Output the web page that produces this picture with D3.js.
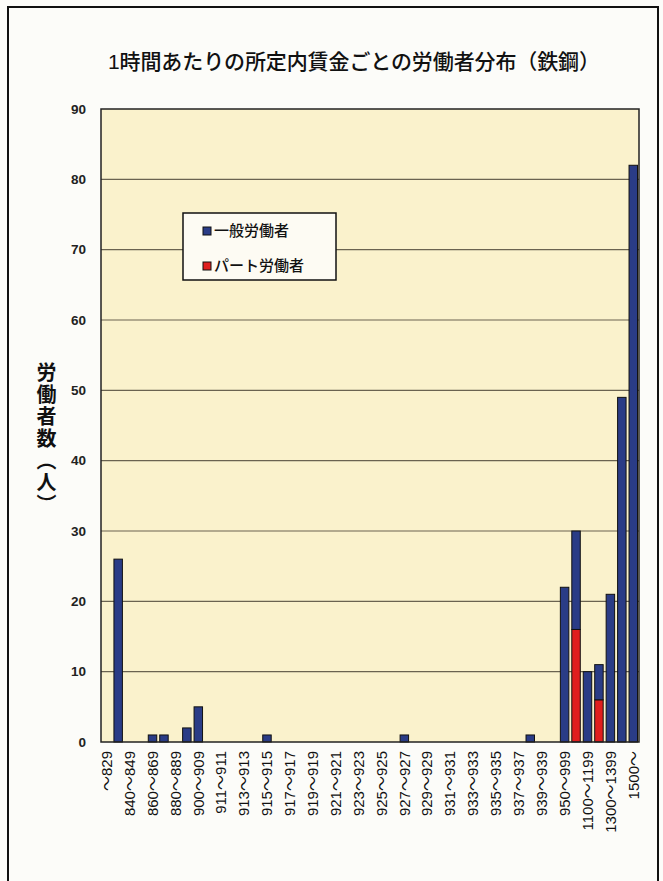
<!DOCTYPE html>
<html>
<head>
<meta charset="utf-8">
<script src="https://cdn.jsdelivr.net/npm/d3@7"></script>
<style>
  body { margin: 0; background: #fcfcf9; }
  svg { display: block; }
</style>
</head>
<body>
<svg id="chart"></svg>
<script>
// 賃金階級（1つおきにラベル表示）
const categories = [
  "～829", "830～839", "840～849", "850～859", "860～869", "870～879", "880～889", "890～899",
  "900～909", "910～910", "911～911", "912～912", "913～913", "914～914", "915～915", "916～916",
  "917～917", "918～918", "919～919", "920～920", "921～921", "922～922", "923～923", "924～924",
  "925～925", "926～926", "927～927", "928～928", "929～929", "930～930", "931～931", "932～932",
  "933～933", "934～934", "935～935", "936～936", "937～937", "938～938", "939～939", "940～949",
  "950～999", "1000～1099", "1100～1199", "1200～1299", "1300～1399", "1400～1499", "1500～"
];
// 一般労働者
const generalWorkers = [
  0, 26, 0, 0, 1, 1, 0, 2, 5, 0, 0, 0, 0, 0, 1, 0,
  0, 0, 0, 0, 0, 0, 0, 0, 0, 0, 1, 0, 0, 0, 0, 0,
  0, 0, 0, 0, 0, 1, 0, 0, 22, 14, 10, 5, 21, 49, 82
];
// パート労働者
const partWorkers = [
  0, 0, 0, 0, 0, 0, 0, 0, 0, 0, 0, 0, 0, 0, 0, 0,
  0, 0, 0, 0, 0, 0, 0, 0, 0, 0, 0, 0, 0, 0, 0, 0,
  0, 0, 0, 0, 0, 0, 0, 0, 0, 16, 0, 6, 0, 0, 0
];
const yTicks = [0, 10, 20, 30, 40, 50, 60, 70, 80, 90];
const seriesNames = ["一般労働者", "パート労働者"];

const width = 663, height = 881;
const margin = {top: 109, right: 24, bottom: 139, left: 101};
const colors = {"一般労働者": "#2a3c86", "パート労働者": "#e01e1e"};
const font = "'Liberation Sans', 'Noto Sans CJK JP', sans-serif";

const svg = d3.select("#chart")
  .attr("width", width)
  .attr("height", height)
  .style("font-family", font);

// 外枠
svg.append("rect")
  .attr("x", 8).attr("y", 7)
  .attr("width", 650).attr("height", 900)
  .attr("fill", "#fcfcf9")
  .attr("stroke", "#111")
  .attr("stroke-width", 2);

const x = d3.scaleBand()
  .domain(categories)
  .range([margin.left, width - margin.right])
  .paddingInner(0.26)
  .paddingOuter(0.13);

const y = d3.scaleLinear()
  .domain([0, 90])
  .range([height - margin.bottom, margin.top]);

// プロットエリア
svg.append("rect")
  .attr("x", margin.left).attr("y", margin.top)
  .attr("width", width - margin.right - margin.left)
  .attr("height", y(0) - y(90))
  .attr("fill", "#faf2cc");

// 目盛線
svg.append("g")
  .selectAll("line")
  .data(yTicks.slice(1, -1))
  .join("line")
  .attr("x1", margin.left).attr("x2", width - margin.right)
  .attr("y1", d => y(d)).attr("y2", d => y(d))
  .attr("stroke", "#6a6350")
  .attr("stroke-width", 1.2);

// 積み上げ
const rows = categories.map((c, i) => ({cat: c, "パート労働者": partWorkers[i], "一般労働者": generalWorkers[i]}));
const stack = d3.stack().keys(["パート労働者", "一般労働者"]);
const layers = stack(rows);

svg.append("g")
  .selectAll("g")
  .data(layers)
  .join("g")
  .attr("fill", d => colors[d.key])
  .selectAll("rect")
  .data(d => d.filter(s => s[1] > s[0]))
  .join("rect")
  .attr("x", d => x(d.data.cat))
  .attr("width", x.bandwidth())
  .attr("y", d => y(d[1]))
  .attr("height", d => y(d[0]) - y(d[1]))
  .attr("stroke", "#111")
  .attr("stroke-width", 1);

// プロット枠
svg.append("rect")
  .attr("x", margin.left).attr("y", margin.top)
  .attr("width", width - margin.right - margin.left)
  .attr("height", y(0) - y(90))
  .attr("fill", "none")
  .attr("stroke", "#222")
  .attr("stroke-width", 1.5);

// Y軸
const yAxis = svg.append("g")
  .attr("transform", `translate(${margin.left},0)`)
  .call(d3.axisLeft(y).tickValues(yTicks).tickSize(0).tickPadding(15));
yAxis.select(".domain").remove();
yAxis.selectAll("text")
  .attr("font-size", 13.5)
  .attr("font-weight", "bold")
  .attr("font-family", font)
  .attr("fill", "#222");

// X軸
const xAxis = svg.append("g")
  .attr("transform", `translate(0,${y(0)})`)
  .call(d3.axisBottom(x).tickValues(categories.filter((c, i) => i % 2 === 0)).tickSize(0));
xAxis.select(".domain").remove();
xAxis.selectAll("text")
  .attr("font-size", 15)
  .attr("font-family", font)
  .attr("fill", "#111")
  .attr("text-anchor", "end")
  .attr("transform", "rotate(-90)")
  .attr("x", -9)
  .attr("y", 0)
  .attr("dy", "0.35em");

// タイトル
svg.append("text")
  .attr("x", 354).attr("y", 69)
  .attr("text-anchor", "middle")
  .attr("font-size", 21)
  .attr("font-weight", 500)
  .attr("fill", "#111")
  .attr("textLength", 492)
  .text("1時間あたりの所定内賃金ごとの労働者分布（鉄鋼）");

// Y軸タイトル（縦書き）
svg.append("text")
  .attr("x", 45).attr("y", 362)
  .style("writing-mode", "vertical-rl")
  .style("letter-spacing", "2px")
  .attr("font-size", 20)
  .attr("font-weight", "bold")
  .attr("fill", "#111")
  .text("労働者数（人）");

// 凡例
const legend = svg.append("g").attr("transform", "translate(183,213)");
legend.append("rect")
  .attr("width", 153).attr("height", 67)
  .attr("fill", "#fdfbf3")
  .attr("stroke", "#111")
  .attr("stroke-width", 1.5);
legend.selectAll("g")
  .data(seriesNames)
  .join("g")
  .attr("transform", (d, i) => `translate(20,${18 + i * 35})`)
  .call(g => {
    g.append("rect")
      .attr("x", 0).attr("y", -4)
      .attr("width", 8).attr("height", 8)
      .attr("fill", d => colors[d])
      .attr("stroke", "#111");
    g.append("text")
      .attr("x", 11).attr("dy", "0.35em")
      .attr("font-size", 15)
      .attr("font-weight", 500)
      .attr("fill", "#111")
      .text(d => d);
  });
</script>
</body>
</html>
